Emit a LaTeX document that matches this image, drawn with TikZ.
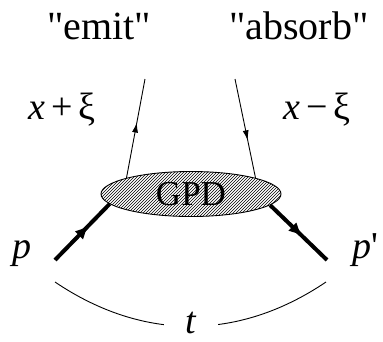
\documentclass[tikz,border=0pt]{standalone}
\usepackage{fontspec}
\newfontfamily\tms{Liberation Serif}
\usetikzlibrary{arrows.meta,decorations.markings,patterns,shapes.geometric}

\begin{document}
\begin{tikzpicture}[x=1pt, y=-1pt,
    big/.style={font=\tms\fontsize{40}{44}\selectfont},
    sym/.style={font=\tms\fontsize{38}{42}\selectfont},
    quark/.style={line width=0.9pt, postaction={decorate},
      decoration={markings, mark=at position #1 with {\arrow{Latex[length=10pt,width=6pt]}}}},
    hadron/.style={line width=4pt, postaction={decorate},
      decoration={markings, mark=at position #1 with {\arrow{Latex[length=14pt,width=12pt]}}}}]
    \useasboundingbox (0,0) rectangle (383,341);

    % Labels on top
    \node[big, anchor=base] (emit) at (99,39) {"emit"};
    \node[big, anchor=base] (absorb) at (299,39) {"absorb"};

    % The blob
    \node[draw, ellipse, line width=0.9pt, minimum width=180pt, minimum height=45pt,
      inner sep=0pt, pattern=north east lines,
      font=\tms\fontsize{35}{40}\selectfont] (gpd) at (191,194) {GPD};

    % Quark lines
    \coordinate (qout) at (145,79);
    \coordinate (qin) at (235,79);
    \draw[quark=0.56] (gpd.166) -- (qout);
    \draw[quark=0.62] (qin) -- (gpd.14);
    \node[sym, anchor=base] (xplus) at (62,119) {\textit{x}\,+\,ξ};
    \node[sym, anchor=base] (xminus) at (317,119) {\textit{x}\,−\,ξ};

    % Hadron lines
    \coordinate (pin) at (55,260);
    \coordinate (pout) at (327,260);
    \draw[hadron=0.62] (pin) -- (gpd.187);
    \draw[hadron=0.57] (gpd.352) -- (pout);
    \node[sym, anchor=base] (plab) at (22,258) {\textit{p}};
    \node[sym, anchor=base west] (pplab) at (349,258) {\textit{p}'};

    % Momentum transfer
    \coordinate (tl) at (55,282);
    \coordinate (tr) at (326,282);
    \draw[line width=0.9pt] (tl) to[bend right=34] (tr);
    \node[sym, anchor=base, fill=white, inner xsep=21pt, inner ysep=0.5pt] (tlab) at (191,333) {\textit{t}};
\end{tikzpicture}
\end{document}
